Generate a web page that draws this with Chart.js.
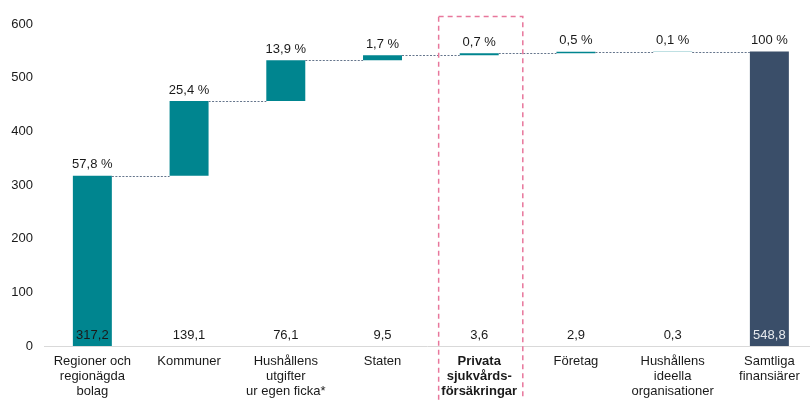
<!DOCTYPE html>
<html><head><meta charset="utf-8">
<script src="https://cdn.jsdelivr.net/npm/chart.js@4.4.1/dist/chart.umd.min.js"></script>
<style>html,body{margin:0;padding:0;background:#fff;overflow:hidden}#wrap{width:810px;height:400px;position:relative}</style>
</head><body><div id="wrap"><canvas id="c"></canvas></div>
<script>
const categories = [["Regioner och","regionägda","bolag"],["Kommuner"],["Hushållens","utgifter","ur egen ficka*"],["Staten"],["Privata","sjukvårds-","försäkringar"],["Företag"],["Hushållens","ideella","organisationer"],["Samtliga","finansiärer"]];
const amounts = [317.2, 139.1, 76.1, 9.5, 3.6, 2.9, 0.3];
const total = 548.8;
const shares = [57.8, 25.4, 13.9, 1.7, 0.7, 0.5, 0.1, 100];
const yTicks = [0, 100, 200, 300, 400, 500, 600];
const highlightIndex = 4;

const TEAL = '#00858f', NAVY = '#3a4e69', FONT = '"Liberation Sans", Arial, sans-serif';
const fmt = v => String(v).replace('.', ',');

let cum = 0;
const ranges = amounts.map(a => { const r = [cum, cum + a]; cum += a; return r; });
ranges.push([0, total]);
const values = amounts.concat([total]);
const points = ranges.map((r, i) => ({x: i, y: r}));

const overlay = {
  id: 'overlay',
  afterDatasetsDraw(chart) {
    const {ctx, scales: {x, y}} = chart;
    const meta = chart.getDatasetMeta(0);
    ctx.save();
    ctx.strokeStyle = '#65758c';
    ctx.lineWidth = 1.2;
    ctx.setLineDash([2, 1.5]);
    for (let i = 0; i < ranges.length - 1; i++) {
      const b = meta.data[i], n = meta.data[i + 1];
      const yy = Math.round(y.getPixelForValue(ranges[i][1])) + 0.5;
      ctx.beginPath();
      ctx.moveTo(b.x + b.width / 2, yy);
      ctx.lineTo(n.x - n.width / 2, yy);
      ctx.stroke();
    }
    ctx.setLineDash([]);
    ctx.font = '13px ' + FONT;
    ctx.textAlign = 'center';
    ctx.textBaseline = 'middle';
    const y0 = y.getPixelForValue(0);
    meta.data.forEach((b, i) => {
      const top = y.getPixelForValue(ranges[i][1]);
      ctx.fillStyle = '#1a1a1a';
      ctx.fillText(fmt(shares[i]) + ' %', b.x, top - 11);
      ctx.fillStyle = i === ranges.length - 1 ? '#e6e9ee' : '#1a1a1a';
      ctx.fillText(fmt(values[i]), b.x, y0 - 11);
    });
    const cx = x.getPixelForValue(highlightIndex) + 1.5;
    const half = (x.getPixelForValue(1) - x.getPixelForValue(0)) * 0.435;
    ctx.strokeStyle = '#e8779c';
    ctx.lineWidth = 1.5;
    ctx.setLineDash([5, 4]);
    ctx.strokeRect(cx - half, 16.5, half * 2, 400);
    ctx.restore();
  }
};

new Chart(document.getElementById('c'), {
  type: 'bar',
  data: {
    datasets: [{
      data: points,
      backgroundColor: ranges.map((r, i) => i === ranges.length - 1 ? NAVY : TEAL),
      borderWidth: 0,
      barPercentage: 0.403,
      categoryPercentage: 1
    }]
  },
  options: {
    responsive: true,
    maintainAspectRatio: false,
    animation: false,
    layout: {padding: {top: 24, right: 0, left: 0, bottom: 0}},
    plugins: {legend: {display: false}, tooltip: {enabled: false}},
    scales: {
      x: {
        type: 'linear',
        offset: false,
        min: -0.5,
        max: 7.42,
        afterBuildTicks: s => { s.ticks = categories.map((c, i) => ({value: i})); },
        afterFit: s => { s.height = 54; },
        grid: {display: false, drawTicks: false, offset: false},
        border: {display: true, color: '#d9d9d9', width: 1},
        ticks: {
          autoSkip: false,
          maxRotation: 0,
          padding: 8,
          color: '#1a1a1a',
          callback: v => categories[v],
          font: c => ({family: FONT, size: 13, lineHeight: 1.15, weight: c.index === highlightIndex ? 'bold' : 'normal'})
        }
      },
      y: {
        min: 0,
        max: 600,
        afterBuildTicks: s => { s.ticks = yTicks.map(v => ({value: v})); },
        afterFit: s => { s.width = 44; },
        grid: {display: false, drawTicks: false},
        border: {display: false},
        ticks: {padding: 11, color: '#1a1a1a', font: {family: FONT, size: 13}}
      }
    }
  },
  plugins: [overlay]
});
</script></body></html>
